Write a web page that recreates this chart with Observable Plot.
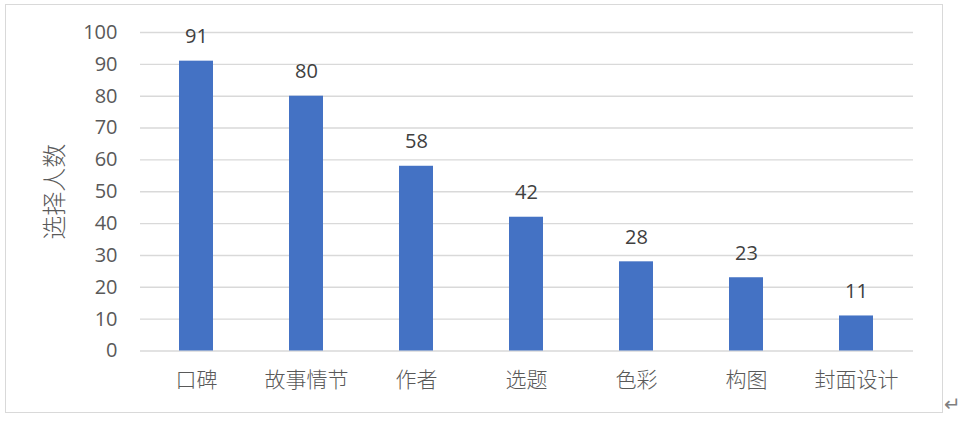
<!DOCTYPE html>
<html><head><meta charset="utf-8">
<script src="https://cdn.jsdelivr.net/npm/d3@7"></script>
<script src="https://cdn.jsdelivr.net/npm/@observablehq/plot@0.6"></script>
<style>
body{margin:0;background:#fff;}
#wrap{position:relative;width:968px;height:428px;}
#frame{position:absolute;left:5px;top:4px;width:938px;height:409px;border:1.5px solid #d9d9d9;box-sizing:border-box;}
#ret{position:absolute;left:944px;top:392px;font:20px "DejaVu Sans";color:#7f7f7f;}
</style></head><body>
<div id="wrap"><div id="frame"></div><div id="ret">↵</div><div id="chart"></div></div>
<script>
const categories = ["口碑","故事情节","作者","选题","色彩","构图","封面设计"];
const values = [91,80,58,42,28,23,11];
const yTicks = [0,10,20,30,40,50,60,70,80,90,100];
const yTitle = "选择人数";
const data = categories.map((c,i)=>({c, v: values[i]}));
const chart = Plot.plot({
  width: 968, height: 428,
  marginLeft: 140, marginRight: 55, marginTop: 32, marginBottom: 77.5,
  style: {background: "transparent", overflow: "visible"},
  x: {domain: categories, paddingInner: 0.69, paddingOuter: 0.345, label: null},
  y: {domain: [0,100], ticks: yTicks, label: null},
  marks: [
    Plot.gridY(yTicks, {stroke: "#d9d9d9", strokeOpacity: 1, strokeWidth: 1.4}),
    Plot.barY(data, {x: "c", y: "v", fill: "#4472c4"}),
    Plot.text(data, {x: "c", y: "v", text: d => String(d.v), dy: -18, lineAnchor: "bottom", fontSize: 20, fill: "#404040", fontFamily: "Open Sans, Liberation Sans, sans-serif"}),
    Plot.axisY(yTicks, {tickSize: 0, tickPadding: 23, fontSize: 20, fill: "#595959", fontFamily: "Open Sans, Liberation Sans, sans-serif", label: null}),
    Plot.axisX({tickSize: 0, tickPadding: 21, fontSize: 21, fill: "#595959", fontFamily: "Noto Sans CJK SC", fontWeight: 300, label: null}),
    Plot.text([yTitle], {frameAnchor: "left", textAnchor: "middle", dx: -85, rotate: -90, fontSize: 24, fill: "#595959", fontFamily: "Noto Sans CJK SC", fontWeight: 300})
  ]
});
document.getElementById("chart").appendChild(chart);
</script>
</body></html>
